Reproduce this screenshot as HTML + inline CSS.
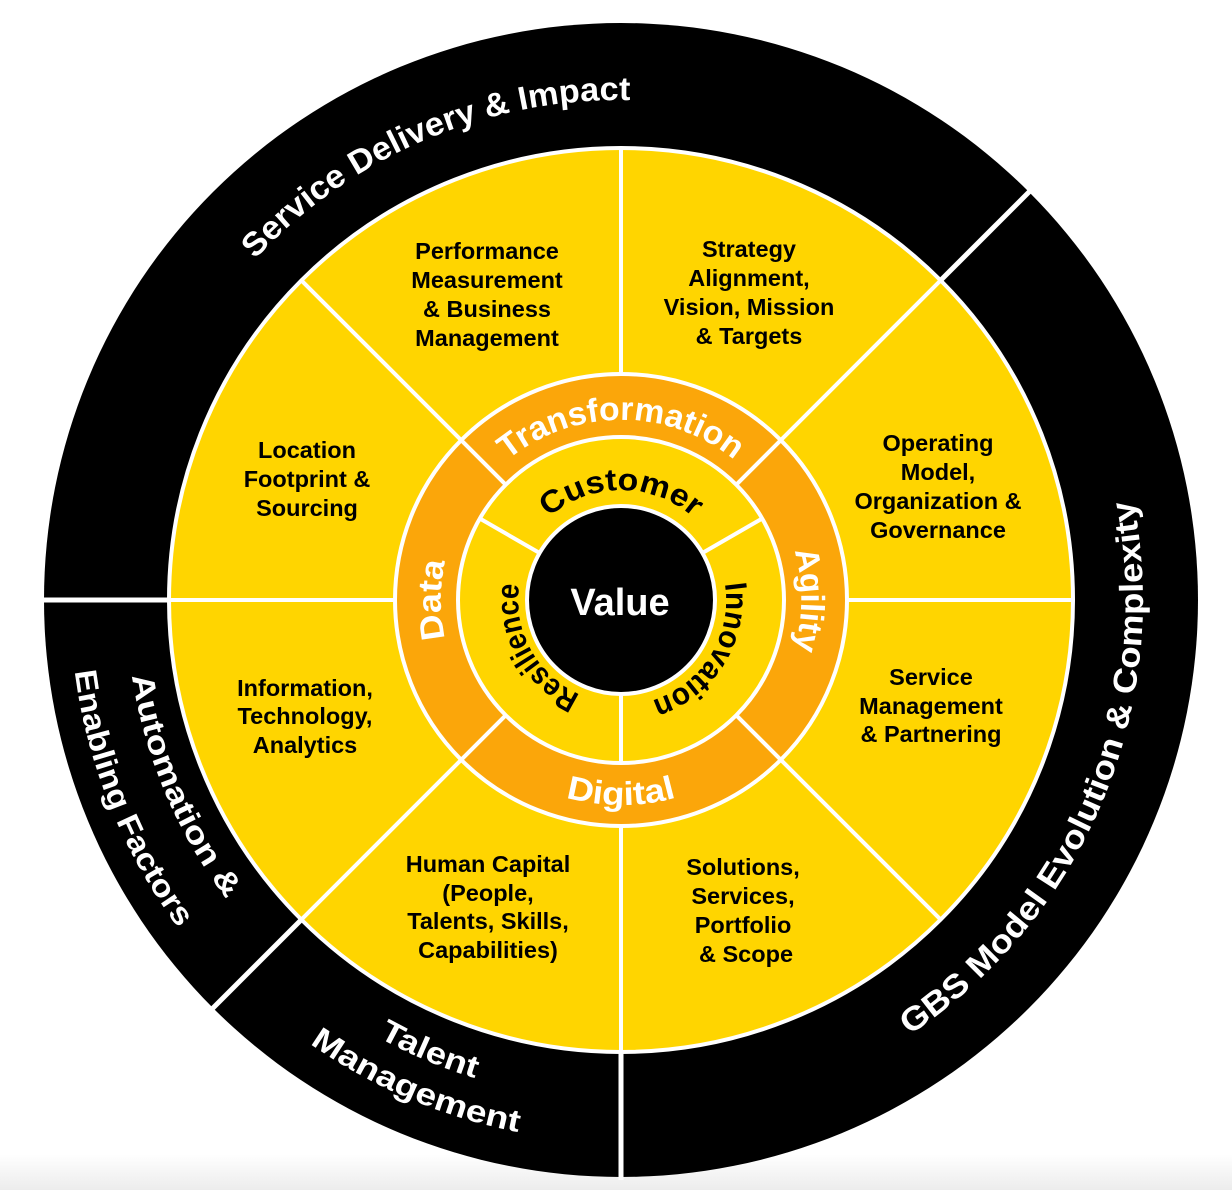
<!DOCTYPE html>
<html><head><meta charset="utf-8"><style>
html,body{margin:0;padding:0;background:#fff;}
svg{display:block;}
text{font-family:"Liberation Sans",Arial,sans-serif;font-weight:bold;}
</style></head><body>
<svg width="1232" height="1190" viewBox="0 0 1232 1190" xmlns="http://www.w3.org/2000/svg">
<defs>
<linearGradient id="bg" x1="0" y1="0" x2="0" y2="1"><stop offset="0.97" stop-color="#fff"/><stop offset="1" stop-color="#ececec"/></linearGradient>
<path id="pSD" d="M121.7,626.2 A500,500 0 0 1 986.7,259"/>
<path id="pGBS" d="M551.1,1117.3 A522,522 0 0 0 940.2,187"/>
<path id="pA1" d="M225.7,302.1 A495,495 0 0 0 560.7,1091.3"/>
<path id="pA2" d="M186.8,260.8 A551,551 0 0 0 544.3,1145.6"/>
<path id="pT1" d="M124.7,661 A500,500 0 0 0 921.9,999.3"/>
<path id="pT2" d="M83.1,666.1 A542,542 0 0 0 947.2,1032.8"/>
<path id="pTr" d="M443.7,568.8 A180,180 0 0 1 798.3,568.8"/>
<path id="pAg" d="M652.3,422.7 A180,180 0 0 1 652.3,777.3"/>
<path id="pDi" d="M419.1,635.6 A205,205 0 0 0 822.9,635.6"/>
<path id="pDa" d="M589.8,777.3 A180,180 0 0 1 589.8,422.7"/>
<path id="pCu" d="M512.7,580.9 A110,110 0 0 1 729.3,580.9"/>
<path id="pIn" d="M691.3,522 A105,105 0 0 1 581.7,697.4"/>
<path id="pRe" d="M654.5,697.4 A103,103 0 0 1 556.2,520"/>
</defs>
<rect width="1232" height="1190" fill="url(#bg)"/>
<circle cx="621" cy="600" r="577" fill="#000"/>
<circle cx="621" cy="600" r="452" fill="#FFD500" stroke="#fff" stroke-width="4"/>
<g stroke="#fff" stroke-width="5">
<line x1="940.6" y1="280.4" x2="1031.1" y2="189.9"/>
<line x1="169" y1="600" x2="41" y2="600"/>
<line x1="301.4" y1="919.6" x2="210.9" y2="1010.1"/>
<line x1="621" y1="1052" x2="621" y2="1180"/>
</g>
<g stroke="#fff" stroke-width="4">
<line x1="847" y1="600" x2="1073" y2="600"/>
<line x1="780.8" y1="759.8" x2="940.6" y2="919.6"/>
<line x1="621" y1="826" x2="621" y2="1052"/>
<line x1="461.2" y1="759.8" x2="301.4" y2="919.6"/>
<line x1="395" y1="600" x2="169" y2="600"/>
<line x1="461.2" y1="440.2" x2="301.4" y2="280.4"/>
<line x1="621" y1="374" x2="621" y2="148"/>
<line x1="780.8" y1="440.2" x2="940.6" y2="280.4"/>
</g>
<circle cx="621" cy="600" r="226" fill="#FBA60A" stroke="#fff" stroke-width="4"/>
<g stroke="#fff" stroke-width="4">
<line x1="736.3" y1="715.3" x2="780.8" y2="759.8"/>
<line x1="505.7" y1="715.3" x2="461.2" y2="759.8"/>
<line x1="505.7" y1="484.7" x2="461.2" y2="440.2"/>
<line x1="736.3" y1="484.7" x2="780.8" y2="440.2"/>
</g>
<circle cx="621" cy="600" r="163" fill="#FFD500" stroke="#fff" stroke-width="4"/>
<g stroke="#fff" stroke-width="4">
<line x1="702.4" y1="553" x2="762.2" y2="518.5"/>
<line x1="621" y1="694" x2="621" y2="763"/>
<line x1="539.6" y1="553" x2="479.8" y2="518.5"/>
</g>
<circle cx="621" cy="600" r="94" fill="#000" stroke="#fff" stroke-width="4"/>
<text x="620" y="615" fill="#fff" font-size="38" text-anchor="middle">Value</text>

<g fill="#fff" font-size="33">
<text><textPath href="#pSD" startOffset="50%" text-anchor="middle" textLength="420" lengthAdjust="spacingAndGlyphs">Service Delivery &amp; Impact</textPath></text>
<text><textPath href="#pGBS" startOffset="50%" text-anchor="middle" textLength="615" lengthAdjust="spacingAndGlyphs">GBS Model Evolution &amp; Complexity</textPath></text>
<text font-size="31"><textPath href="#pA1" startOffset="50%" text-anchor="middle" textLength="245" lengthAdjust="spacingAndGlyphs">Automation &amp;</textPath></text>
<text font-size="31"><textPath href="#pA2" startOffset="50%" text-anchor="middle" textLength="280" lengthAdjust="spacingAndGlyphs">Enabling Factors</textPath></text>
<text font-size="31"><textPath href="#pT1" startOffset="50%" text-anchor="middle" textLength="105" lengthAdjust="spacingAndGlyphs">Talent</textPath></text>
<text font-size="31"><textPath href="#pT2" startOffset="50%" text-anchor="middle" textLength="228" lengthAdjust="spacingAndGlyphs">Management</textPath></text>
<text font-size="33"><textPath href="#pTr" startOffset="50%" text-anchor="middle" textLength="245" lengthAdjust="spacingAndGlyphs">Transformation</textPath></text>
<text font-size="33"><textPath href="#pAg" startOffset="50%" text-anchor="middle" textLength="100" lengthAdjust="spacingAndGlyphs">Agility</textPath></text>
<text font-size="33"><textPath href="#pDi" startOffset="50%" text-anchor="middle" textLength="112" lengthAdjust="spacingAndGlyphs">Digital</textPath></text>
<text font-size="33"><textPath href="#pDa" startOffset="50%" text-anchor="middle" textLength="78" lengthAdjust="spacingAndGlyphs">Data</textPath></text>
</g>
<g fill="#000" font-size="31">
<text><textPath href="#pCu" startOffset="50%" text-anchor="middle" textLength="158" lengthAdjust="spacingAndGlyphs">Customer</textPath></text>
<text><textPath href="#pIn" startOffset="50%" text-anchor="middle" textLength="150" lengthAdjust="spacingAndGlyphs">Innovation</textPath></text>
<text><textPath href="#pRe" startOffset="50%" text-anchor="middle" textLength="135" lengthAdjust="spacingAndGlyphs">Resilience</textPath></text>
</g>

<g fill="#000" font-size="23.5" text-anchor="middle">
<text x="487" y="259">Performance</text><text x="487" y="288">Measurement</text><text x="487" y="317">&amp; Business</text><text x="487" y="346">Management</text>
<text x="749" y="257">Strategy</text><text x="749" y="286">Alignment,</text><text x="749" y="315">Vision, Mission</text><text x="749" y="344">&amp; Targets</text>
<text x="307" y="458">Location</text><text x="307" y="487">Footprint &amp;</text><text x="307" y="516">Sourcing</text>
<text x="938" y="451">Operating</text><text x="938" y="480">Model,</text><text x="938" y="509">Organization &amp;</text><text x="938" y="538">Governance</text>
<text x="305" y="696">Information,</text><text x="305" y="724">Technology,</text><text x="305" y="753">Analytics</text>
<text x="931" y="685">Service</text><text x="931" y="714">Management</text><text x="931" y="742">&amp; Partnering</text>
<text x="488" y="872">Human Capital</text><text x="488" y="901">(People,</text><text x="488" y="929">Talents, Skills,</text><text x="488" y="958">Capabilities)</text>
<text x="743" y="875">Solutions,</text><text x="743" y="904">Services,</text><text x="743" y="933">Portfolio</text><text x="746" y="962">&amp; Scope</text>
</g>
</svg>
</body></html>
